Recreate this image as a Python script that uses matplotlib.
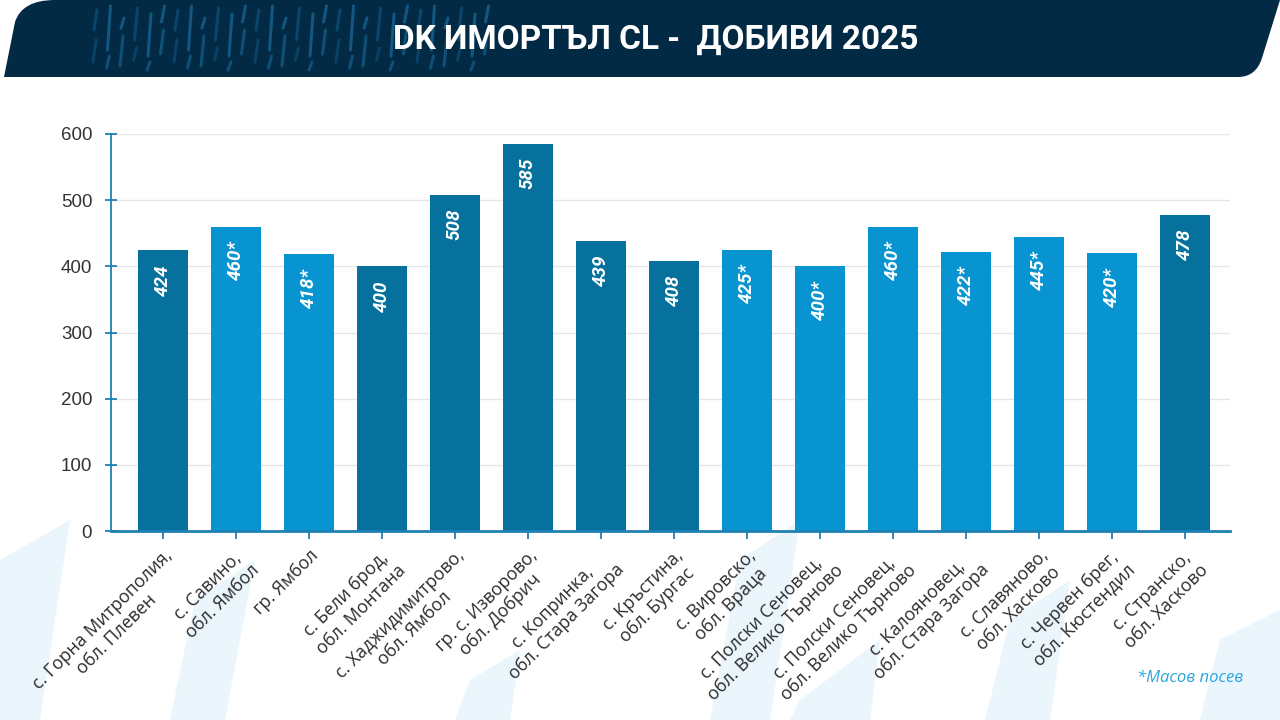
import matplotlib.pyplot as plt
from matplotlib.patches import PathPatch, Polygon
from matplotlib.path import Path


TITLE = "DK ИМОРТЪЛ CL -  ДОБИВИ 2025"
NOTE = "*Масов посев"

locations = [
    "с. Горна Митрополия,\nобл. Плевен",
    "с. Савино,\nобл. Ямбол",
    "гр. Ямбол",
    "с. Бели брод,\nобл. Монтана",
    "с. Хаджидимитрово,\nобл. Ямбол",
    "гр. с. Изворово,\nобл. Добрич",
    "с. Копринка,\nобл. Стара Загора",
    "с. Кръстина,\nобл. Бургас",
    "с. Вировско,\nобл. Враца",
    "с. Полски Сеновец,\nобл. Велико Търново",
    "с. Полски Сеновец,\nобл. Велико Търново",
    "с. Калояновец,\nобл. Стара Загора",
    "с. Славяново,\nобл. Хасково",
    "с. Червен брег,\nобл. Кюстендил",
    "с. Странско,\nобл. Хасково",
]
yields = [424, 460, 418, 400, 508, 585, 439, 408, 425, 400, 460, 422, 445, 420, 478]
mass_sowing = [False, True, True, False, False, False, False, False,
               True, True, True, True, True, True, False]

DARK_BAR = "#05719c"
LIGHT_BAR = "#0894d0"
NAVY = "#022a45"
AXIS_BLUE = "#1f80b4"


def draw_background(fig):
    bg = fig.add_axes([0, 0, 1, 1], zorder=0)
    bg.set_xlim(0, 1280)
    bg.set_ylim(720, 0)
    bg.axis("off")

    # faint decorative strokes at the bottom
    for pts in [
        [(0, 560), (70, 520), (40, 720), (0, 720)],
        [(195, 600), (255, 560), (225, 720), (170, 720)],
        [(470, 680), (520, 650), (510, 720), (455, 720)],
        [(740, 560), (800, 520), (770, 720), (710, 720)],
        [(800, 700), (880, 640), (870, 720), (790, 720)],
        [(1010, 620), (1070, 580), (1050, 720), (985, 720)],
        [(1220, 640), (1280, 610), (1280, 720), (1200, 720)],
    ]:
        bg.add_patch(Polygon(pts, closed=True, color="#eaf5fc", lw=0))

    # header band
    verts = [(4, 77), (15, 22), (22, 0), (55, 0), (1280, 0), (1280, 0),
             (1262, 58), (1256, 77), (1238, 77), (4, 77), (4, 77)]
    codes = [Path.MOVETO, Path.LINETO, Path.CURVE3, Path.CURVE3, Path.LINETO,
             Path.LINETO, Path.LINETO, Path.CURVE3, Path.CURVE3, Path.LINETO,
             Path.CLOSEPOLY]
    bg.add_patch(PathPatch(Path(verts, codes), color=NAVY, lw=0))

    # dashed stripes inside the header
    pattern = [(10, 30, 40, 62), (6, 50, 56, 68), (18, 28, 36, 66),
               (8, 40, 48, 60), (14, 56, 62, 70), (6, 22, 30, 54)]
    for i in range(30):
        x = 95 + i * 13.5
        a, b, c, d = pattern[i % len(pattern)]
        shade = "#155f8c" if i % 3 else "#0e4a72"
        bg.plot([x + 2, x - 1], [a, b], color=shade, lw=2.2,
                solid_capstyle="round", alpha=0.85)
        bg.plot([x + 1, x - 2], [c, d], color=shade, lw=2.2,
                solid_capstyle="round", alpha=0.7)

    bg.text(656, 40, TITLE, color="white", fontsize=24, fontweight="bold",
            family="Roboto", ha="center", va="center")
    bg.text(1190, 678, NOTE, color="#2ba4dd", fontsize=12, style="italic",
            family="Open Sans", ha="center", va="center")


def main():
    fig = plt.figure(figsize=(12.8, 7.2), dpi=100)
    fig.patch.set_facecolor("white")
    draw_background(fig)

    ax = fig.add_axes([111 / 1280, 1 - 531 / 720, (1230 - 111) / 1280,
                       (531 - 134) / 720], zorder=1)
    ax.patch.set_alpha(0)

    x = list(range(len(yields)))
    colors = [LIGHT_BAR if m else DARK_BAR for m in mass_sowing]
    bars = ax.bar(x, yields, width=0.68, color=colors, zorder=3)

    for bar, val, m in zip(bars, yields, mass_sowing):
        label = f"{val}*" if m else f"{val}"
        ax.annotate(label, (bar.get_x() + bar.get_width() / 2, val),
                    xytext=(0, -10), textcoords="offset points",
                    rotation=90, ha="center", va="top", color="white",
                    fontsize=13.5, fontweight="bold", style="italic",
                    family="Roboto", zorder=4)

    ax.set_ylim(0, 600)
    ax.set_xlim(-0.71, len(yields) - 1 + 0.62)
    ax.set_yticks(range(0, 601, 100))
    ax.yaxis.grid(True, color="#e6e6e6", lw=1, zorder=0)
    ax.set_axisbelow(True)

    for side in ["top", "right"]:
        ax.spines[side].set_visible(False)
    ax.spines["left"].set_color(AXIS_BLUE)
    ax.spines["left"].set_linewidth(1.3)
    ax.spines["bottom"].set_color(AXIS_BLUE)
    ax.spines["bottom"].set_linewidth(2)
    ax.spines["bottom"].set_zorder(5)

    ax.tick_params(axis="y", direction="inout", length=9, width=1.3,
                   color=AXIS_BLUE, labelcolor="#333333", labelsize=13.5, pad=9)
    for t in ax.get_yticklabels():
        t.set_family("Liberation Sans")
    ax.tick_params(axis="x", direction="out", length=6, width=1.3,
                   color=AXIS_BLUE, pad=5)
    ax.set_xticks(x)
    ax.set_xticklabels(locations, rotation=45, ha="right",
                       rotation_mode="anchor", fontsize=12.8,
                       family="Open Sans", color="#2b2b2b",
                       multialignment="center")

    fig.savefig("out.png", dpi=100, facecolor="white")


if __name__ == "__main__":
    main()
